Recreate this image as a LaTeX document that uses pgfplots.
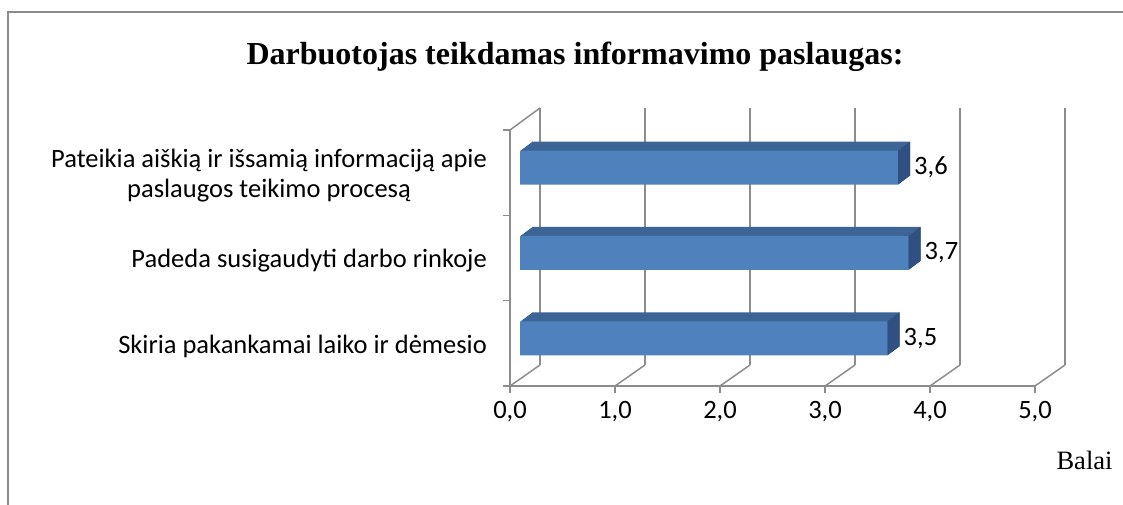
\documentclass[border=0pt]{standalone}
\usepackage{pgfplots}
\pgfplotsset{compat=1.18}
\usepackage{pgfplotstable}
\usepackage{fontspec}
\setmainfont{Liberation Serif}
\newfontfamily\calibri{Carlito}
\definecolor{barfront}{HTML}{4F81BD}
\definecolor{bartop}{HTML}{3C6494}
\definecolor{barside}{HTML}{2F5080}
\definecolor{gridg}{HTML}{8C8C8C}
\pgfdeclareplotmark{rside}{%
  \pgfpathmoveto{\pgfpoint{0pt}{-17pt}}%
  \pgfpathlineto{\pgfpoint{0pt}{17pt}}%
  \pgfpathlineto{\pgfpoint{12pt}{26pt}}%
  \pgfpathlineto{\pgfpoint{12pt}{-8pt}}%
  \pgfpathclose\pgfusepathqfill}
\pgfplotstableread{
x y
3.5 0.5
3.7 1.5
3.6 2.5
}\bardata
\begin{document}
\begin{tikzpicture}
\draw[gridg, line width=1.5pt] (8pt,0pt) -- (8pt,493pt) -- (1123pt,493pt);
\node[font=\bfseries\fontsize{32}{38}\selectfont] at (575pt,448pt) {Darbuotojas teikdamas informavimo paslaugas:};
\node[anchor=east, font=\fontsize{26.5}{32}\selectfont] at (1116pt,45pt) {Balai};
\begin{axis}[
  set layers,
  at={(510pt,119pt)}, anchor=south west,
  scale only axis, width=525pt, height=256pt,
  xmin=0, xmax=5, ymin=0, ymax=3,
  clip=false,
  axis x line=bottom, axis y line=left,
  axis line style={-, gridg, line width=1.5pt},
  every tick/.style={gridg, line width=1.5pt},
  tick align=outside, major tick length=7pt,
  xtick={0,1,2,3,4,5},
  ytick={0,1,2,3}, yticklabels={,,,},
  /pgf/number format/.cd, use comma, fixed, fixed zerofill, precision=1, assume math mode=true, /pgfplots/.cd,
  ticklabel style={font=\calibri\fontsize{26.5}{30}\selectfont},
  xticklabel style={yshift=-5pt},
  extra y ticks={0.5,1.5,2.5},
  extra y tick labels={Skiria pakankamai laiko ir dėmesio, Padeda susigaudyti darbo rinkoje, {Pateikia aiškią ir išsamią informaciją apie\\paslaugos teikimo procesą}},
  extra y tick style={major tick length=0pt, yticklabel style={align=center, inner sep=0pt, xshift=-23pt, yshift=-3pt}},
]
\pgfplotsinvokeforeach{0,...,5}{
  \draw[gridg, line width=1.5pt, on layer=axis background] ([shift={(30pt,21pt)}]axis cs:#1,0) -- ([shift={(30pt,22pt)}]axis cs:#1,3);
  \draw[gridg, line width=1.5pt, on layer=axis background] (axis cs:#1,0) -- ([shift={(30pt,21pt)}]axis cs:#1,0);
}
\draw[gridg, line width=1.5pt, on layer=axis background] (axis cs:0,3) -- ([shift={(30pt,22pt)}]axis cs:0,3);
\pgfplotsinvokeforeach{1,...,12}{
  \addplot[xbar, bar shift=0pt, bar width=34pt, fill=bartop, draw=none, xshift={(10+#1)*1pt}, yshift={(5+0.75*#1)*1pt}] table[x=x,y=y] {\bardata};
}
\addplot[only marks, mark=rside, barside, xshift=10pt, yshift=5pt] table[x=x,y=y] {\bardata};
\addplot[xbar, bar shift=0pt, bar width=34pt, fill=barfront, draw=none, xshift=10pt, yshift=5pt,
  point meta=x, nodes near coords,
  every node near coord/.append style={anchor=west, inner sep=0pt, xshift=16pt, font=\calibri\fontsize{26.5}{30}\selectfont, black}] table[x=x,y=y] {\bardata};
\end{axis}
\pgfresetboundingbox
\useasboundingbox (0,0) rectangle (1123pt,505pt);
\end{tikzpicture}
\end{document}
